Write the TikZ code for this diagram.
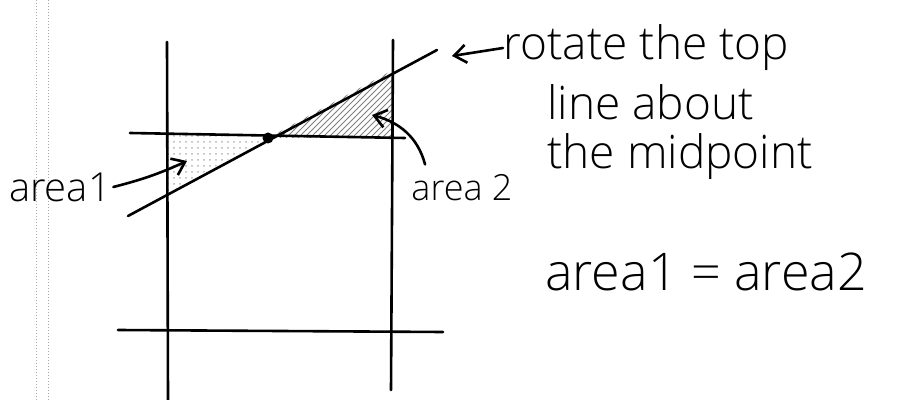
\documentclass[tikz,border=0pt]{standalone}
\usepackage{fontspec}
\setmainfont{Open Sans}[UprightFont=* Light]
\usepackage{tikz}
\usetikzlibrary{arrows.meta, positioning, patterns}
\tikzset{
	pen/.style={line width=1.3pt, line cap=round, black},
	ruling/.style={densely dotted, gray!70, line width=0.5pt},
	note/.style={inner sep=0pt, anchor=west, font=\fontsize{23}{26}\selectfont},
	label/.style={inner sep=1pt, font=\fontsize{18}{22}\selectfont},
	line/.style={draw, pen, -{Straight Barb[length=6pt, width=9pt]}}
}

\begin{document}
\begin{tikzpicture}[x=0.5pt, y=-0.5pt]
		\useasboundingbox (0,0) rectangle (897,400);
		% margin rulings
		\draw[ruling] (36,0) -- (36,400);
		\draw[ruling] (48,0) -- (48,400);
		% shaded areas
		\fill[pattern=dots, pattern color=gray!60] (168,134) -- (268,138) -- (168,192) -- cycle;
		\fill[pattern=north east lines, pattern color=gray] (268,138) -- (393,138) -- (393,70) -- cycle;
		% grid lines
		\draw[pen] (167,42) -- (168,400);
		\draw[pen] (393,40) -- (391,390);
		\draw[pen] (130,133) -- (405,138);
		\draw[pen] (118,330) -- (443,332);
		\draw[pen] (128,216) -- (437,50);
		\fill (268,138) coordinate (m) circle (5.5);
		% labels
		\node[label, font=\fontsize{20}{24}\selectfont] (a1) at (60,187) {area1};
		\node[label] (a2) at (462,188) {area 2};
		\node[note] (r1) at (503,48) {rotate the top};
		\node[note] (r2) at (547,102) {line about};
		\node[note] (r3) at (547,157) {the midpoint};
		\node[label, font=\fontsize{26}{30}\selectfont] (eq) at (706,272) {area1 = area2};
		\coordinate (t1) at (187,161);
		\coordinate (t2) at (372,115);
		\coordinate (t3) at (452,56);
		\draw[line] (a1.east) to[bend right=5] (t1);
		\draw[line] ([xshift=8pt, yshift=4pt]a2.north west) to[out=105, in=-15] (t2);
		\draw[line] (r1.west) -- (t3);
		\end{tikzpicture}
\end{document}
